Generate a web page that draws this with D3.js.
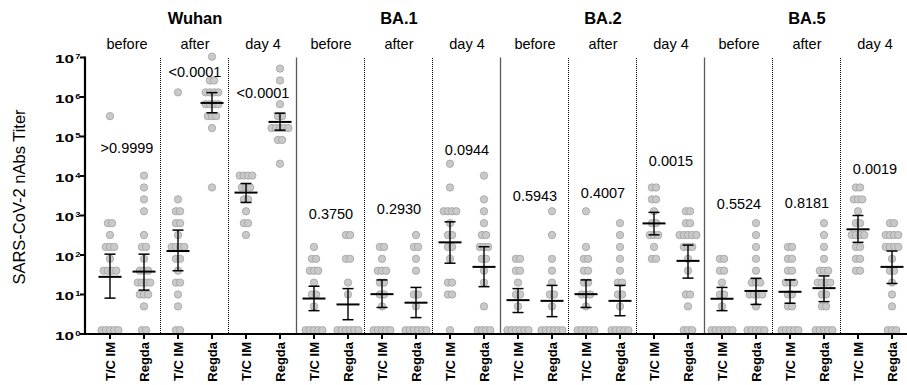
<!DOCTYPE html>
<html><head><meta charset="utf-8">
<script src="https://cdn.jsdelivr.net/npm/d3@7"></script>
<style>body{margin:0;background:#fff} svg{display:block} text{font-family:"Liberation Sans",Arial,sans-serif;fill:#000}</style>
</head><body><svg id="c" width="907" height="385"></svg>
<script>
// ---------- data ----------
const LOD = 1.25; // points plotted at the baseline
const variants = ["Wuhan", "BA.1", "BA.2", "BA.5"];
const timepoints = ["before", "after", "day 4"];
const regimens = ["T/C IM", "Regda"];
const yTickExponents = [0, 1, 2, 3, 4, 5, 6, 7];
const pValues = [">0.9999", "<0.0001", "<0.0001", "0.3750", "0.2930", "0.0944", "0.5943", "0.4007", "0.0015", "0.5524", "0.8181", "0.0019"];
const pLabelTiter = [51300, 4270000, 1260000, 1070, 1445, 45700, 3090, 3715, 24000, 1950, 2040, 15100];

const wuhanBeforeTC = [327680, 640, 640, 320, 160, 160, 160, 80, 40, 40, 40, 40, LOD, LOD, LOD, LOD, LOD];
const wuhanBeforeRegda = [10240, 5120, 2560, 1280, 320, 160, 160, 80, 40, 40, 40, 20, 20, 20, 20, 10, 10, 10, 5, LOD, LOD];
const wuhanAfterTC = [1310720, 2560, 1280, 1280, 640, 640, 320, 160, 160, 160, 160, 80, 80, 40, 20, 20, 10, 5, LOD, LOD];
const wuhanAfterRegda = [10485760, 2621440, 2621440, 1310720, 1310720, 1310720, 1310720, 655360, 655360, 655360, 655360, 327680, 327680, 327680, 163840, 5120];
const wuhanDay4TC = [10240, 10240, 10240, 10240, 5120, 5120, 5120, 2560, 2560, 1280, 640, 640, 320];
const wuhanDay4Regda = [5242880, 2621440, 655360, 327680, 327680, 163840, 163840, 163840, 163840, 163840, 81920, 81920, 20480];
const ba1BeforeTC = [160, 80, 80, 40, 40, 40, 20, 10, 10, 5, LOD, LOD, LOD, LOD, LOD];
const ba1BeforeRegda = [320, 320, 80, 80, 20, 10, LOD, LOD, LOD, LOD, LOD, LOD];
const ba1AfterTC = [160, 160, 80, 40, 40, 40, 20, 20, 10, 10, 5, LOD, LOD, LOD, LOD, LOD];
const ba1AfterRegda = [320, 160, 160, 80, 40, 10, 10, 5, LOD, LOD, LOD, LOD, LOD, LOD];
const ba1Day4TC = [20480, 5120, 1280, 1280, 1280, 1280, 640, 320, 320, 160, 160, 80, 20, 20, 10, 10, LOD];
const ba1Day4Regda = [10240, 2560, 1280, 640, 320, 320, 160, 160, 160, 80, 80, 40, 20, 5, LOD, LOD, LOD, LOD];
const ba2BeforeTC = [80, 80, 40, 40, 20, 10, 10, 5, LOD, LOD, LOD, LOD, LOD, LOD];
const ba2BeforeRegda = [1280, 320, 80, 40, 20, 10, 10, 5, LOD, LOD, LOD, LOD, LOD, LOD];
const ba2AfterTC = [1280, 160, 80, 80, 40, 40, 20, 20, 10, 10, 10, 5, LOD, LOD, LOD, LOD, LOD];
const ba2AfterRegda = [640, 320, 160, 80, 40, 20, 20, 10, 10, 5, LOD, LOD, LOD, LOD, LOD];
const ba2Day4TC = [5120, 5120, 2560, 2560, 1280, 640, 640, 320, 320, 320, 160, 80, 80];
const ba2Day4Regda = [1280, 1280, 640, 640, 320, 320, 320, 320, 320, 160, 160, 160, 80, 40, 10, 10, 5, LOD, LOD, LOD];
const ba5BeforeTC = [80, 80, 40, 40, 20, 10, 10, 5, LOD, LOD, LOD, LOD, LOD, LOD];
const ba5BeforeRegda = [640, 320, 160, 80, 40, 20, 20, 20, 10, 10, 10, 10, 5, LOD, LOD, LOD, LOD, LOD];
const ba5AfterTC = [160, 160, 80, 80, 40, 40, 20, 20, 20, 10, 10, 5, 5, LOD, LOD, LOD, LOD, LOD];
const ba5AfterRegda = [640, 320, 160, 80, 40, 40, 40, 20, 20, 20, 20, 10, 10, 5, 5, LOD, LOD, LOD, LOD, LOD];
const ba5Day4TC = [5120, 5120, 2560, 2560, 2560, 1280, 640, 640, 320, 320, 320, 320, 160, 160, 80, 80, 40, 40];
const ba5Day4Regda = [640, 640, 320, 320, 320, 320, 160, 160, 160, 160, 80, 40, 40, 20, 10, 5, LOD, LOD, LOD];

// geometric mean with 95% CI
const geoMean = [28, 38, 126, 708000, 3800, 234000, 7.9, 5.6, 10.2, 6.2, 209, 50, 7.2, 6.9, 10.2, 6.9, 631, 71, 7.8, 12.3, 11.7, 14.5, 447, 50];
const ciHigh = [105, 105, 427, 1290000, 6460, 389000, 16.2, 14.1, 23.4, 15.1, 692, 162, 14.1, 17, 23.4, 17, 1200, 178, 15.1, 25.7, 23.4, 29.5, 1000, 126];
const ciLow = [8.1, 12.9, 40, 398000, 2140, 145000, 3.9, 2.3, 4.7, 2.6, 62, 15.8, 3.5, 2.75, 4.7, 2.9, 324, 26, 3.9, 5.6, 6.0, 6.6, 209, 19];

const titers = [wuhanBeforeTC, wuhanBeforeRegda, wuhanAfterTC, wuhanAfterRegda, wuhanDay4TC, wuhanDay4Regda,
  ba1BeforeTC, ba1BeforeRegda, ba1AfterTC, ba1AfterRegda, ba1Day4TC, ba1Day4Regda,
  ba2BeforeTC, ba2BeforeRegda, ba2AfterTC, ba2AfterRegda, ba2Day4TC, ba2Day4Regda,
  ba5BeforeTC, ba5BeforeRegda, ba5AfterTC, ba5AfterRegda, ba5Day4TC, ba5Day4Regda];

// ---------- drawing ----------
const svg = d3.select("#c");
const W = 907;
const y = d3.scaleLog().domain([1, 1e7]).range([334, 57.5]);
const x = d3.scalePoint().domain(d3.range(titers.length)).range([110, 892]);
const axisLeft = 85;

// separators
const nPanels = variants.length * timepoints.length;
for (let p = 0; p < nPanels - 1; p++) {
  const sx = Math.round((x(2 * p + 1) + x(2 * p + 2)) / 2) - 0.5;
  const solid = (p + 1) % timepoints.length === 0;
  svg.append("line").attr("x1", sx).attr("x2", sx).attr("y1", y(1e7)).attr("y2", y(1))
    .attr("stroke", solid ? "#5a5a5a" : "#000").attr("stroke-width", solid ? 1.3 : 1)
    .attr("shape-rendering", solid ? null : "crispEdges")
    .attr("stroke-dasharray", solid ? null : "1,1");
}

// points (beeswarm by equal value)
const spacing = 4.2, r = 3.7;
titers.forEach((vals, gi) => {
  const counts = d3.rollup(vals, v => v.length, d => d);
  const seen = new Map();
  vals.forEach(v => {
    const n = counts.get(v);
    const k = seen.get(v) || 0; seen.set(v, k + 1);
    const dx = (k - (n - 1) / 2) * spacing;
    svg.append("circle").attr("cx", x(gi) + dx).attr("cy", y(v)).attr("r", r)
      .attr("fill", "#c9c9c9").attr("stroke", "#a2a2a2").attr("stroke-width", 0.8);
  });
});

// error bars
geoMean.forEach((m, gi) => {
  const cx = x(gi);
  const g = svg.append("g").attr("stroke", "#000");
  g.append("line").attr("x1", cx).attr("x2", cx).attr("y1", y(ciLow[gi])).attr("y2", y(ciHigh[gi])).attr("stroke-width", 1.4);
  [ciLow[gi], ciHigh[gi]].forEach(v => g.append("line").attr("x1", cx - 5.5).attr("x2", cx + 5.5).attr("y1", y(v)).attr("y2", y(v)).attr("stroke-width", 1.5));
  g.append("line").attr("x1", cx - 11.5).attr("x2", cx + 11.5).attr("y1", y(m)).attr("y2", y(m)).attr("stroke-width", 2);
});

// axes
svg.append("line").attr("x1", axisLeft).attr("x2", axisLeft).attr("y1", y(1e7) - 1).attr("y2", y(1) + 1).attr("stroke", "#000").attr("stroke-width", 2.2);
svg.append("line").attr("x1", axisLeft - 1).attr("x2", W).attr("y1", y(1)).attr("y2", y(1)).attr("stroke", "#000").attr("stroke-width", 2.2);
yTickExponents.forEach(e => {
  const ty = y(Math.pow(10, e));
  svg.append("line").attr("x1", axisLeft - 5).attr("x2", axisLeft).attr("y1", ty).attr("y2", ty).attr("stroke", "#000").attr("stroke-width", 2);
  svg.append("text").attr("x", 55).attr("y", ty + 5.5).attr("font-size", 11).attr("font-weight", "bold")
    .attr("textLength", 19).attr("lengthAdjust", "spacingAndGlyphs").text("10");
  svg.append("text").attr("x", 75.3).attr("y", ty + 1.5).attr("font-size", 7.5).attr("font-weight", "bold")
    .attr("textLength", 5.2).attr("lengthAdjust", "spacingAndGlyphs").text(String(e));
});
titers.forEach((_, gi) => {
  const tx = x(gi);
  svg.append("line").attr("x1", tx).attr("x2", tx).attr("y1", y(1)).attr("y2", y(1) + 5).attr("stroke", "#000").attr("stroke-width", 2);
  svg.append("text").attr("transform", `translate(${tx},342) rotate(-90)`).attr("text-anchor", "end")
    .attr("dy", "0.36em").attr("font-size", 13).attr("font-weight", "bold").text(regimens[gi % 2]);
});

// y title
svg.append("text").attr("transform", "translate(24.5,197) rotate(-90)").attr("text-anchor", "middle")
  .attr("font-size", 16.5).text("SARS-CoV-2 nAbs Titer");

// headers
variants.forEach((v, vi) => {
  const cx = (x(vi * 6) + x(vi * 6 + 5)) / 2;
  svg.append("text").attr("x", cx).attr("y", 24).attr("text-anchor", "middle").attr("font-size", 16.5).attr("font-weight", "bold").text(v);
  timepoints.forEach((t, ti) => {
    const pi = vi * 3 + ti;
    const px = (x(2 * pi) + x(2 * pi + 1)) / 2;
    svg.append("text").attr("x", px).attr("y", 48.5).attr("text-anchor", "middle").attr("font-size", 14.5).text(t);
    svg.append("text").attr("x", px).attr("y", y(pLabelTiter[pi])).attr("dy", "0.35em").attr("text-anchor", "middle")
      .attr("font-size", 14.5).text(pValues[pi]);
  });
});
</script></body></html>
